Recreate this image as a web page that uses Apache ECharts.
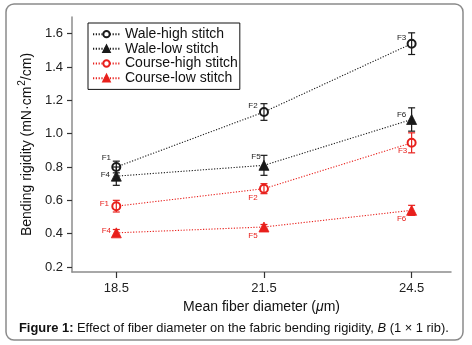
<!DOCTYPE html>
<html>
<head>
<meta charset="utf-8">
<script src="https://cdn.jsdelivr.net/npm/echarts@6/dist/echarts.min.js"></script>
<style>
  html, body { margin: 0; padding: 0; background: #fff; }
  #chart { width: 472px; height: 345px; }
</style>
</head>
<body>
<div id="chart"></div>
<script>
// Mean fibre diameter (µm) of the three fabrics
const diameters = [18.5, 21.5, 24.5];
const xTicks = [18.5, 21.5, 24.5];
const yTicks = [0.2, 0.4, 0.6, 0.8, 1.0, 1.2, 1.4, 1.6];

// Bending rigidity (mN·cm²/cm) and standard deviation per direction / stitch
const waleHigh = [0.80, 1.13, 1.54];
const waleHighErr = [0.035, 0.05, 0.065];
const waleLow = [0.745, 0.81, 1.085];
const waleLowErr = [0.055, 0.06, 0.07];
const courseHigh = [0.565, 0.67, 0.945];
const courseHighErr = [0.035, 0.03, 0.06];
const courseLow = [0.405, 0.44, 0.54];
const courseLowErr = [0.02, 0.015, 0.03];

// Fabric codes written beside each point
const waleHighCodes = ['F1', 'F2', 'F3'];
const waleLowCodes = ['F4', 'F5', 'F6'];
const courseHighCodes = ['F1', 'F2', 'F3'];
const courseLowCodes = ['F4', 'F5', 'F6'];

const seriesNames = ['Wale-high stitch', 'Wale-low stitch', 'Course-high stitch', 'Course-low stitch'];

const BLACK = '#1a1a1a';
const RED = '#e8201c';
const FONT = 'Liberation Sans, Arial, Helvetica, sans-serif';

// label offsets (px) of the fabric codes relative to each point
const codeOffsets = [
  [[-10, -9], [-11, -6], [-10, -6]],
  [[-11, -1], [-8, -9], [-10, -5]],
  [[-12, -2], [-11, 9], [-9, 8]],
  [[-10, -2], [-11, 9], [-10, 8]]
];

function lineSeries(name, values, codes, color, symbol, size, idx) {
  return {
    name: name,
    type: 'line',
    symbol: symbol,
    symbolSize: size,
    showSymbol: true,
    z: 3,
    itemStyle: { color: color, borderColor: color, borderWidth: 0.8 },
    lineStyle: { color: color, width: 1.1, type: [1.2, 1.6] },
    data: values.map((v, i) => ({
      value: [diameters[i], v],
      label: {
        show: true,
        formatter: codes[i],
        position: 'inside',
        offset: codeOffsets[idx][i],
        color: color,
        fontSize: 8,
        fontFamily: FONT
      }
    })),
    emphasis: { disabled: true },
    animation: false
  };
}

function errorSeries(values, errs, color) {
  return {
    type: 'custom',
    z: 4,
    silent: true,
    animation: false,
    data: values.map((v, i) => [diameters[i], v - errs[i], v + errs[i]]),
    renderItem: function (params, api) {
      const lo = api.coord([api.value(0), api.value(1)]);
      const hi = api.coord([api.value(0), api.value(2)]);
      const w = 3.5;
      const style = { stroke: color, lineWidth: 1.2 };
      return {
        type: 'group',
        children: [
          { type: 'line', shape: { x1: lo[0], y1: lo[1], x2: hi[0], y2: hi[1] }, style: style },
          { type: 'line', shape: { x1: lo[0] - w, y1: lo[1], x2: lo[0] + w, y2: lo[1] }, style: style },
          { type: 'line', shape: { x1: hi[0] - w, y1: hi[1], x2: hi[0] + w, y2: hi[1] }, style: style }
        ]
      };
    }
  };
}

const chart = echarts.init(document.getElementById('chart'), null, { renderer: 'canvas' });

chart.setOption({
  backgroundColor: '#fff',
  animation: false,
  textStyle: { fontFamily: FONT },
  grid: { left: 72, right: 21, top: 17, bottom: 73 },
  legend: {
    orient: 'vertical',
    left: 88,
    top: 23,
    padding: [4, 2, 4, 4],
    itemGap: 0.4,
    itemWidth: 27,
    itemHeight: 8,
    borderColor: '#111',
    borderWidth: 1,
    data: seriesNames,
    textStyle: { fontSize: 14, lineHeight: 14.3, color: '#111', fontFamily: FONT },
    selectedMode: false
  },
  xAxis: {
    type: 'value',
    min: 17.6,
    max: 25.3,
    name: 'Mean fiber diameter ({i|μ}m)',
    nameLocation: 'middle',
    nameGap: 27,
    nameTextStyle: {
      fontSize: 14, color: '#111', fontFamily: FONT,
      rich: { i: { fontSize: 14, fontStyle: 'italic', color: '#111', fontFamily: FONT } }
    },
    axisLine: { show: true, lineStyle: { color: '#8c8c8c', width: 1.5 } },
    axisTick: { show: true, inside: false, length: 6, customValues: xTicks, lineStyle: { color: '#333', width: 1.2 } },
    axisLabel: { customValues: xTicks, fontSize: 13, color: '#222', margin: 10, formatter: v => v.toFixed(1) },
    splitLine: { show: false }
  },
  yAxis: {
    type: 'value',
    min: 0.17,
    max: 1.7,
    name: 'Bending rigidity (mN·cm{sup|2}/cm)',
    nameLocation: 'middle',
    nameGap: 35,
    nameRotate: 90,
    nameTextStyle: {
      fontSize: 14, color: '#111', fontFamily: FONT,
      rich: { sup: { fontSize: 10, color: '#111', fontFamily: FONT, padding: [0, 0, 9, 1] } }
    },
    axisLine: { show: true, lineStyle: { color: '#8c8c8c', width: 1.5 } },
    axisTick: { show: true, inside: false, length: 5, customValues: yTicks, lineStyle: { color: '#333', width: 1.2 } },
    axisLabel: { customValues: yTicks, fontSize: 13, color: '#222', margin: 9, formatter: v => v.toFixed(1) },
    splitLine: { show: false }
  },
  series: [
    lineSeries(seriesNames[0], waleHigh, waleHighCodes, BLACK, 'emptyCircle', 8, 0),
    lineSeries(seriesNames[1], waleLow, waleLowCodes, BLACK, 'triangle', 10, 1),
    lineSeries(seriesNames[2], courseHigh, courseHighCodes, RED, 'emptyCircle', 8, 2),
    lineSeries(seriesNames[3], courseLow, courseLowCodes, RED, 'triangle', 10, 3),
    errorSeries(waleHigh, waleHighErr, BLACK),
    errorSeries(waleLow, waleLowErr, BLACK),
    errorSeries(courseHigh, courseHighErr, RED),
    errorSeries(courseLow, courseLowErr, RED)
  ],
  graphic: [
    {
      type: 'rect',
      silent: true,
      z: -1,
      shape: { x: 6, y: 4, width: 457, height: 336, r: 8 },
      style: { fill: 'none', stroke: '#8a8a8a', lineWidth: 1.5 }
    },
    {
      type: 'text',
      left: 19,
      top: 322,
      style: {
        text: '{b|Figure 1:} Effect of fiber diameter on the fabric bending rigidity, {i|B} (1 × 1 rib).',
        fontSize: 12.9,
        fontFamily: FONT,
        fill: '#111',
        rich: {
          b: { fontSize: 12.9, fontWeight: 'bold', fontFamily: FONT, fill: '#111' },
          i: { fontSize: 12.9, fontStyle: 'italic', fontFamily: FONT, fill: '#111' }
        }
      }
    }
  ]
});
</script>
</body>
</html>
